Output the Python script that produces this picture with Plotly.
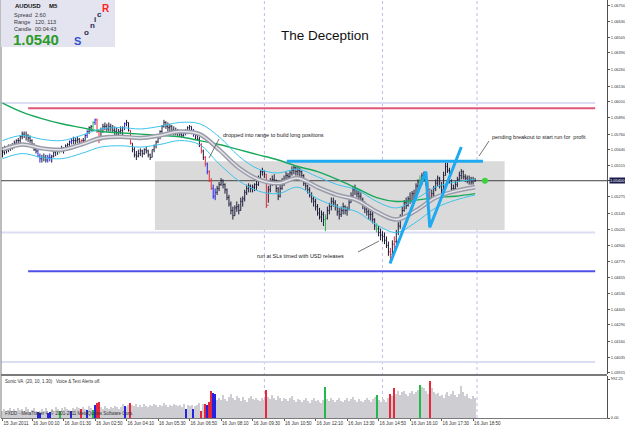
import plotly.graph_objects as go
import pandas as pd

# ---------------- data ----------------
first_bar_time = "2011-06-15 22:55"
first_open = 1.0563
highs = [
 1.0566,1.0567,1.0566,1.0568,1.0568,1.0569,1.0571,1.0572,1.0573,1.0575,
 1.0578,1.0578,1.0578,1.0576,1.0575,1.0572,1.0569,1.0567,1.0564,1.0561,
 1.0560,1.0561,1.0560,1.0560,1.0561,1.0560,1.0564,1.0564,1.0565,1.0565,
 1.0567,1.0566,1.0568,1.0569,1.0571,1.0573,1.0574,1.0573,1.0574,1.0573,
 1.0572,1.0573,1.0576,1.0579,1.0582,1.0583,1.0586,1.0588,1.0588,1.0579,
 1.0581,1.0584,1.0585,1.0584,1.0585,1.0584,1.0583,1.0582,1.0581,1.0580,
 1.0582,1.0582,1.0585,1.0587,1.0585,1.0579,1.0569,1.0566,1.0563,1.0564,
 1.0565,1.0564,1.0565,1.0566,1.0564,1.0561,1.0564,1.0568,1.0571,1.0575,
 1.0579,1.0583,1.0587,1.0586,1.0585,1.0584,1.0583,1.0582,1.0581,1.0580,
 1.0579,1.0578,1.0579,1.0580,1.0582,1.0583,1.0582,1.0580,1.0578,1.0577,
 1.0574,1.0569,1.0564,1.0559,1.0554,1.0548,1.0542,1.0537,1.0534,1.0536,
 1.0539,1.0542,1.0541,1.0538,1.0534,1.0529,1.0524,1.0520,1.0521,1.0524,
 1.0522,1.0527,1.0528,1.0533,1.0537,1.0538,1.0537,1.0537,1.0538,1.0540,
 1.0544,1.0548,1.0550,1.0548,1.0545,1.0536,1.0542,1.0544,1.0545,1.0541,
 1.0535,1.0537,1.0542,1.0544,1.0547,1.0546,1.0548,1.0551,1.0552,1.0551,
 1.0551,1.0550,1.0548,1.0545,1.0541,1.0537,1.0535,1.0531,1.0528,1.0526,
 1.0522,1.0519,1.0517,1.0516,1.0514,1.0520,1.0523,1.0527,1.0527,1.0525,
 1.0522,1.0519,1.0520,1.0523,1.0521,1.0520,1.0525,1.0531,1.0535,1.0537,
 1.0534,1.0533,1.0531,1.0527,1.0524,1.0521,1.0520,1.0517,1.0516,1.0511,
 1.0507,1.0505,1.0503,1.0501,1.0500,1.0497,1.0493,1.0488,1.0494,1.0497,
 1.0502,1.0508,1.0514,1.0520,1.0525,1.0527,1.0528,1.0531,1.0532,1.0533,
 1.0538,1.0541,1.0544,1.0546,1.0547,1.0544,1.0539,1.0534,1.0533,1.0536,
 1.0541,1.0544,1.0543,1.0539,1.0547,1.0554,1.0554,1.0550,1.0541,1.0537,
 1.0540,1.0543,1.0547,1.0549,1.0548,1.0545,1.0544,1.0544,1.0543,1.0543,
 1.0542]
lows = [
 1.0558,1.0560,1.0561,1.0562,1.0563,1.0564,1.0565,1.0567,1.0568,1.0569,
 1.0572,1.0573,1.0571,1.0570,1.0569,1.0566,1.0563,1.0561,1.0558,1.0554,
 1.0554,1.0555,1.0554,1.0554,1.0555,1.0554,1.0558,1.0559,1.0560,1.0561,
 1.0562,1.0561,1.0563,1.0564,1.0565,1.0568,1.0568,1.0568,1.0569,1.0568,
 1.0567,1.0568,1.0571,1.0573,1.0576,1.0578,1.0580,1.0583,1.0577,1.0569,
 1.0571,1.0577,1.0579,1.0578,1.0578,1.0578,1.0577,1.0575,1.0575,1.0574,
 1.0576,1.0575,1.0579,1.0582,1.0578,1.0568,1.0562,1.0558,1.0556,1.0558,
 1.0559,1.0558,1.0560,1.0561,1.0558,1.0556,1.0558,1.0562,1.0565,1.0569,
 1.0572,1.0577,1.0581,1.0580,1.0578,1.0578,1.0577,1.0575,1.0575,1.0574,
 1.0574,1.0573,1.0574,1.0575,1.0576,1.0578,1.0576,1.0574,1.0572,1.0571,
 1.0566,1.0561,1.0556,1.0551,1.0545,1.0539,1.0533,1.0526,1.0525,1.0529,
 1.0532,1.0536,1.0534,1.0530,1.0525,1.0520,1.0514,1.0510,1.0513,1.0516,
 1.0514,1.0517,1.0520,1.0524,1.0529,1.0531,1.0531,1.0531,1.0532,1.0533,
 1.0536,1.0541,1.0544,1.0542,1.0519,1.0523,1.0531,1.0536,1.0537,1.0531,
 1.0525,1.0527,1.0533,1.0536,1.0539,1.0540,1.0541,1.0544,1.0545,1.0544,
 1.0544,1.0543,1.0541,1.0536,1.0533,1.0530,1.0527,1.0523,1.0520,1.0517,
 1.0513,1.0510,1.0508,1.0505,1.0501,1.0510,1.0514,1.0517,1.0520,1.0517,
 1.0513,1.0510,1.0512,1.0514,1.0514,1.0513,1.0517,1.0523,1.0527,1.0529,
 1.0527,1.0524,1.0522,1.0518,1.0515,1.0513,1.0510,1.0509,1.0507,1.0502,
 1.0500,1.0497,1.0494,1.0493,1.0491,1.0488,1.0482,1.0477,1.0483,1.0487,
 1.0491,1.0498,1.0503,1.0510,1.0516,1.0518,1.0520,1.0522,1.0523,1.0524,
 1.0529,1.0533,1.0536,1.0537,1.0539,1.0536,1.0531,1.0523,1.0524,1.0527,
 1.0532,1.0536,1.0534,1.0529,1.0533,1.0544,1.0546,1.0538,1.0531,1.0531,
 1.0532,1.0535,1.0539,1.0541,1.0541,1.0539,1.0538,1.0537,1.0537,1.0537,
 1.0539]
closes = [
 1.0562,1.0564,1.0564,1.0566,1.0565,1.0568,1.0569,1.0571,1.0571,1.0574,
 1.0576,1.0575,1.0575,1.0573,1.0571,1.0568,1.0564,1.0563,1.0559,1.0557,
 1.0558,1.0558,1.0556,1.0558,1.0558,1.0559,1.0562,1.0563,1.0564,1.0564,
 1.0565,1.0564,1.0567,1.0568,1.0570,1.0571,1.0571,1.0571,1.0572,1.0570,
 1.0571,1.0571,1.0575,1.0578,1.0581,1.0582,1.0585,1.0587,1.0578,1.0573,
 1.0578,1.0582,1.0582,1.0580,1.0582,1.0581,1.0579,1.0578,1.0577,1.0578,
 1.0579,1.0581,1.0584,1.0585,1.0579,1.0569,1.0564,1.0560,1.0559,1.0561,
 1.0563,1.0561,1.0564,1.0563,1.0560,1.0558,1.0564,1.0567,1.0570,1.0574,
 1.0578,1.0582,1.0585,1.0582,1.0581,1.0582,1.0579,1.0578,1.0577,1.0578,
 1.0576,1.0575,1.0577,1.0578,1.0581,1.0582,1.0579,1.0577,1.0575,1.0572,
 1.0568,1.0563,1.0558,1.0553,1.0547,1.0540,1.0534,1.0528,1.0531,1.0534,
 1.0537,1.0540,1.0537,1.0533,1.0527,1.0522,1.0517,1.0513,1.0519,1.0520,
 1.0517,1.0524,1.0526,1.0531,1.0534,1.0536,1.0534,1.0535,1.0537,1.0537,
 1.0542,1.0547,1.0547,1.0545,1.0521,1.0533,1.0540,1.0541,1.0538,1.0534,
 1.0528,1.0534,1.0539,1.0541,1.0544,1.0543,1.0546,1.0548,1.0550,1.0547,
 1.0548,1.0547,1.0544,1.0538,1.0536,1.0533,1.0529,1.0526,1.0524,1.0520,
 1.0515,1.0512,1.0514,1.0510,1.0511,1.0517,1.0520,1.0524,1.0523,1.0520,
 1.0516,1.0514,1.0517,1.0520,1.0517,1.0518,1.0523,1.0528,1.0533,1.0534,
 1.0530,1.0528,1.0525,1.0521,1.0518,1.0516,1.0514,1.0514,1.0510,1.0505,
 1.0503,1.0500,1.0498,1.0497,1.0494,1.0490,1.0485,1.0483,1.0491,1.0493,
 1.0500,1.0505,1.0512,1.0517,1.0523,1.0521,1.0526,1.0524,1.0530,1.0527,
 1.0536,1.0539,1.0541,1.0544,1.0541,1.0538,1.0533,1.0525,1.0530,1.0534,
 1.0538,1.0542,1.0536,1.0533,1.0544,1.0551,1.0548,1.0540,1.0534,1.0534,
 1.0537,1.0541,1.0544,1.0547,1.0543,1.0542,1.0540,1.0541,1.0539,1.0541,
 1.0540]
volumes = [
 180,230,150,200,250,170,220,190,260,210,
 240,180,270,230,160,210,250,190,150,130,
 220,180,260,140,150,230,190,270,240,190,
 250,210,280,230,200,170,260,220,290,250,
 240,270,230,210,300,260,200,330,390,420,
 280,240,300,260,220,280,250,310,270,240,
 290,350,300,270,320,380,340,300,360,290,
 330,280,350,310,270,330,300,360,320,290,
 340,300,370,330,280,340,310,350,320,300,
 330,290,350,240,320,300,330,240,310,340,
 380,190,360,350,330,400,690,640,610,470,
 520,450,580,490,430,540,600,510,470,560,
 500,440,530,470,420,510,560,480,450,520,
 470,430,500,460,710,540,480,590,520,460,
 550,500,440,520,480,430,500,560,470,420,
 490,450,400,470,520,440,390,460,500,430,
 470,410,380,450,780,480,430,500,460,410,
 470,520,440,400,460,510,430,480,540,450,
 420,490,440,400,460,520,470,420,480,530,
 590,460,420,490,450,410,520,610,560,760,
 620,680,590,650,700,610,560,640,700,600,
 660,720,830,800,770,690,620,950,760,660,
 600,640,550,590,520,600,660,560,620,690,
 580,530,620,820,660,570,600,520,480,550,
 500]
red_bars = [40, 48, 49, 65, 101, 103, 105, 106, 134, 197, 199, 217]
blue_bars = [18, 19, 23, 24, 35, 43, 47, 62, 93, 97, 104, 107, 108]
green_bars = [29, 46, 164, 190, 212]

ma_step = 10
ma_long = [1.0600,1.0593,1.0588,1.0584,1.0581,1.0578,1.0577,1.0576,1.0575,1.0574,
           1.0571,1.0568,1.0564,1.0560,1.0556,1.0551,1.0547,1.0541,1.0534,1.0527,
           1.0524,1.0525,1.0527,1.0528,1.0530]
ma_mid = [1.0564,1.0568,1.0565,1.0564,1.0568,1.0573,1.0574,1.0573,1.0575,1.0578,
          1.0576,1.0564,1.0550,1.0541,1.0538,1.0542,1.0535,1.0529,1.0525,1.0516,
          1.0510,1.0517,1.0527,1.0532,1.0535]
band_up = [1.0571,1.0575,1.0572,1.0571,1.0575,1.0580,1.0581,1.0580,1.0582,1.0585,
           1.0584,1.0574,1.0559,1.0549,1.0546,1.0549,1.0543,1.0537,1.0533,1.0524,
           1.0519,1.0526,1.0535,1.0539,1.0541]
band_dn = [1.0557,1.0561,1.0558,1.0557,1.0561,1.0566,1.0567,1.0566,1.0568,1.0571,
           1.0568,1.0553,1.0540,1.0532,1.0530,1.0535,1.0526,1.0520,1.0516,1.0506,
           1.0500,1.0508,1.0519,1.0525,1.0529]

range_box_times = ["2011-06-16 05:22", "2011-06-16 20:10"]
range_box_prices = [1.0502, 1.0555]
breakout_times = ["2011-06-16 10:57", "2011-06-16 19:15"]
breakout_price = 1.0555
zigzag_times = ["2011-06-16 15:19", "2011-06-16 16:50", "2011-06-16 17:00", "2011-06-16 18:20"]
zigzag_prices = [1.0476, 1.0547, 1.0504, 1.0566]
round_levels = [1.0600, 1.0500, 1.0400]
resistance_level = 1.0596
support_level = 1.0470
level_start = "2011-06-16 00:00"
level_end = "2011-06-17 00:00"
session_times = ["2011-06-16 10:00", "2011-06-16 15:00", "2011-06-16 19:00"]
last_price = 1.0540
last_dot_time = "2011-06-16 19:20"

ytick_vals = [1.06750, 1.06630, 1.06505, 1.06390, 1.06260, 1.06130, 1.06010, 1.05890,
              1.05760, 1.05640, 1.05515, 1.05400, 1.05275, 1.05145, 1.05020, 1.04900,
              1.04775, 1.04655, 1.04530, 1.04405, 1.04290, 1.04160, 1.04035, 1.03915]
xtick_times = ["2011-06-15 22:55", "2011-06-16 00:10", "2011-06-16 01:30", "2011-06-16 02:50",
               "2011-06-16 04:10", "2011-06-16 05:30", "2011-06-16 06:50", "2011-06-16 08:10",
               "2011-06-16 09:30", "2011-06-16 10:50", "2011-06-16 12:10", "2011-06-16 13:30",
               "2011-06-16 14:50", "2011-06-16 16:10", "2011-06-16 17:30", "2011-06-16 18:50"]
xtick_text = ["15 Jun 2011", "16 Jun 00:10", "16 Jun 01:30", "16 Jun 02:50", "16 Jun 04:10",
              "16 Jun 05:30", "16 Jun 06:50", "16 Jun 08:10", "16 Jun 09:30", "16 Jun 10:50",
              "16 Jun 12:10", "16 Jun 13:30", "16 Jun 14:50", "16 Jun 16:10", "16 Jun 17:30",
              "16 Jun 18:50"]
vol_max = 992.25

# ---------------- build ----------------
FONT = "Liberation Sans, Arial, sans-serif"
W, H = 625, 429
ML, MR, MT, MB = 1, 18, 0, 11
PW, PH = W - ML - MR, H - MT - MB

def px(x):
    return (x - ML) / PW

def py(y):
    return 1 - (y - MT) / PH

times = pd.date_range(first_bar_time, periods=len(closes), freq="5min")
opens = [first_open] + closes[:-1]
ma_times = times[::ma_step]

BAR = "#1c1c3a"
RED, BLUE, GREEN = "#e8283a", "#2424e0", "#22b84a"
cls = ["n"] * len(closes)
for i in red_bars:
    cls[i] = "r"
for i in blue_bars:
    cls[i] = "b"
for i in green_bars:
    cls[i] = "g"
col_map = {"n": BAR, "r": RED, "b": BLUE, "g": GREEN}
vol_col_map = {"n": "#cdcdd2", "r": RED, "b": BLUE, "g": GREEN}

fig = go.Figure()

fig.add_trace(go.Scatter(x=ma_times, y=ma_long, mode="lines", line=dict(color="#18a85a", width=1.4, shape="spline"), hoverinfo="skip"))
fig.add_trace(go.Scatter(x=ma_times, y=band_up, mode="lines", line=dict(color="#3cc4ec", width=1, shape="spline"), hoverinfo="skip"))
fig.add_trace(go.Scatter(x=ma_times, y=band_dn, mode="lines", line=dict(color="#3cc4ec", width=1, shape="spline"), hoverinfo="skip"))
fig.add_trace(go.Scatter(x=ma_times, y=ma_mid, mode="lines", line=dict(color="#9c9ca8", width=4.5, shape="spline"), hoverinfo="skip"))
fig.add_trace(go.Scatter(x=ma_times, y=ma_mid, mode="lines", line=dict(color="#e4e4ec", width=1.5, shape="spline"), hoverinfo="skip"))

for key in ["n", "r", "b", "g"]:
    idx = [i for i, c in enumerate(cls) if c == key]
    if not idx:
        continue
    c = col_map[key]
    fig.add_trace(go.Ohlc(
        x=[times[i] for i in idx], open=[opens[i] for i in idx], high=[highs[i] for i in idx],
        low=[lows[i] for i in idx], close=[closes[i] for i in idx],
        increasing_line_color=c, decreasing_line_color=c, line_width=1, tickwidth=0.4,
        hoverinfo="skip", xaxis="x", yaxis="y"))

fig.add_trace(go.Scatter(x=breakout_times, y=[breakout_price] * 2, mode="lines",
                         line=dict(color="#1eaaf0", width=3), hoverinfo="skip"))
fig.add_trace(go.Scatter(x=zigzag_times, y=zigzag_prices, mode="lines",
                         line=dict(color="#1eaaf0", width=3), hoverinfo="skip"))
fig.add_trace(go.Scatter(x=[last_dot_time], y=[last_price], mode="markers",
                         marker=dict(color="#3ad43a", size=6), hoverinfo="skip"))

fig.add_trace(go.Bar(x=times, y=volumes, marker_color=[vol_col_map[c] for c in cls],
                     marker_line_width=0, width=160000, xaxis="x", yaxis="y2", hoverinfo="skip"))

shapes = []
shapes.append(dict(type="rect", xref="x", yref="y", x0=range_box_times[0], x1=range_box_times[1],
                   y0=range_box_prices[0], y1=range_box_prices[1], fillcolor="#dadada",
                   line=dict(width=0), layer="below"))
x_start = "2011-06-15 22:51:12"
x_end = "2011-06-17 00:30"
for lv in round_levels:
    shapes.append(dict(type="line", xref="x", yref="y", x0=x_start, x1=level_end, y0=lv, y1=lv,
                       line=dict(color="#dcdcf2", width=2), layer="below"))
shapes.append(dict(type="line", xref="x", yref="y", x0=level_start, x1=level_end, y0=resistance_level,
                   y1=resistance_level, line=dict(color="#e05878", width=2), layer="below"))
shapes.append(dict(type="line", xref="x", yref="y", x0=level_start, x1=level_end, y0=support_level,
                   y1=support_level, line=dict(color="#5050e8", width=2), layer="below"))
shapes.append(dict(type="line", xref="x", yref="y", x0=x_start, x1=x_end, y0=last_price,
                   y1=last_price, line=dict(color="#404040", width=1), layer="below"))
for t in session_times:
    shapes.append(dict(type="line", xref="x", yref="paper", x0=t, x1=t, y0=0, y1=1,
                       line=dict(color="#c0bae6", width=1, dash="dot"), layer="below"))
shapes.append(dict(type="line", xref="paper", yref="paper", x0=0, x1=1, y0=py(375), y1=py(375),
                   line=dict(color="#7a7a7a", width=2)))
shapes.append(dict(type="line", xref="paper", yref="paper", x0=0, x1=0, y0=0, y1=1,
                   line=dict(color="#7a7a7a", width=1)))
shapes.append(dict(type="rect", xref="paper", yref="paper", x0=px(1), x1=px(115), y0=py(47), y1=py(0),
                   fillcolor="#e4e4f0", line=dict(width=0)))
for (xa, ya, xb, yb) in [(219, 139, 209, 158), (489, 141, 479, 156), (358, 252, 379, 241)]:
    shapes.append(dict(type="line", xref="paper", yref="paper", x0=px(xa), y0=py(ya), x1=px(xb), y1=py(yb),
                       line=dict(color="#505050", width=0.8)))

ann = []
def text(x, y, s, size=5.5, color="#222222", anchor="left", bold=False):
    ann.append(dict(xref="paper", yref="paper", x=px(x), y=py(y), text=("<b>%s</b>" % s) if bold else s,
                    showarrow=False, xanchor=anchor, yanchor="middle",
                    font=dict(family=FONT, size=size, color=color)))

text(13, 6.5, "AUDUSD", 6, "#111111", bold=True)
text(47, 6.5, "M5", 6, "#111111", bold=True)
text(12, 15, "Spread", 5.5, "#333333")
text(33, 15, "2.60", 5.5, "#333333")
text(12, 22, "Range", 5.5, "#333333")
text(33, 22, "120, 113", 5.5, "#333333")
text(12, 29, "Candle", 5.5, "#333333")
text(33, 29, "00:04:43", 5.5, "#333333")
text(11, 39.5, "1.0540", 15, "#2a9a2a", bold=True)
text(72, 41, "S", 11, "#3050d0", bold=True)
text(82, 32.5, "o", 8, "#2a2a50", bold=True)
text(88, 26, "n", 8, "#2a2a50", bold=True)
text(92, 19.5, "i", 8, "#2a2a50", bold=True)
text(95, 14.5, "c", 8, "#2a2a50", bold=True)
text(100, 8.5, "R", 10, "#ff2020", bold=True)
text(325, 35, "The Deception", 13.5, "#111111", anchor="center")
text(221, 134.5, "dropped into range to build long positions", 5.5)
text(490, 137, "pending breakout to start run for  profit", 5.5)
text(255, 256, "run at SLs timed with USD releases", 5.5)
text(3, 381, "Sonic VA  (20, 10, 1.30)   Voice &amp; Text Alerts off.", 4.5, "#333333")
text(3, 413, "FXDD - MetaTrader 4, © 2001-2011 MetaQuotes Software Corp.", 4.5, "#333333")
ann.append(dict(xref="paper", yref="y", x=1.0, y=last_price, xshift=2, text="1.05400", showarrow=False,
                xanchor="left", yanchor="middle", bgcolor="#1c1c4c", borderpad=0,
                font=dict(family=FONT, size=4, color="#ffffff")))

fig.update_layout(
    width=W, height=H, margin=dict(l=ML, r=MR, t=MT, b=MB),
    paper_bgcolor="white", plot_bgcolor="white", showlegend=False,
    font=dict(family=FONT, size=5, color="#333333"),
    shapes=shapes, annotations=ann, bargap=0,
    xaxis=dict(type="date", range=[x_start, x_end], anchor="y2", domain=[0, 1],
               tickvals=xtick_times, ticktext=xtick_text, ticklabelposition="outside right",
               tickangle=0, automargin=False,
               ticks="outside", ticklen=2, tickcolor="#606060", tickfont=dict(size=4.6, color="#333333"),
               showgrid=False, zeroline=False, showline=True, linecolor="#7a7a7a",
               rangeslider=dict(visible=False)),
    yaxis=dict(domain=[py(374), 1], range=[1.039069, 1.067961], side="right", anchor="x",
               tickvals=ytick_vals, ticktext=["%.5f" % v for v in ytick_vals], automargin=False,
               ticks="outside", ticklen=2, tickcolor="#505050", tickfont=dict(size=4, color="#333333"),
               showgrid=False, zeroline=False, showline=True, linecolor="#505050", fixedrange=True),
    yaxis2=dict(domain=[0, py(376)], range=[0, 1070], side="right", anchor="x", automargin=False,
                tickvals=[vol_max, 0], ticktext=["%.2f" % vol_max, "0.00"],
                ticks="outside", ticklen=2, tickcolor="#505050", tickfont=dict(size=4, color="#333333"),
                showgrid=False, zeroline=False, showline=True, linecolor="#505050"),
)

fig.write_html("out.html")
